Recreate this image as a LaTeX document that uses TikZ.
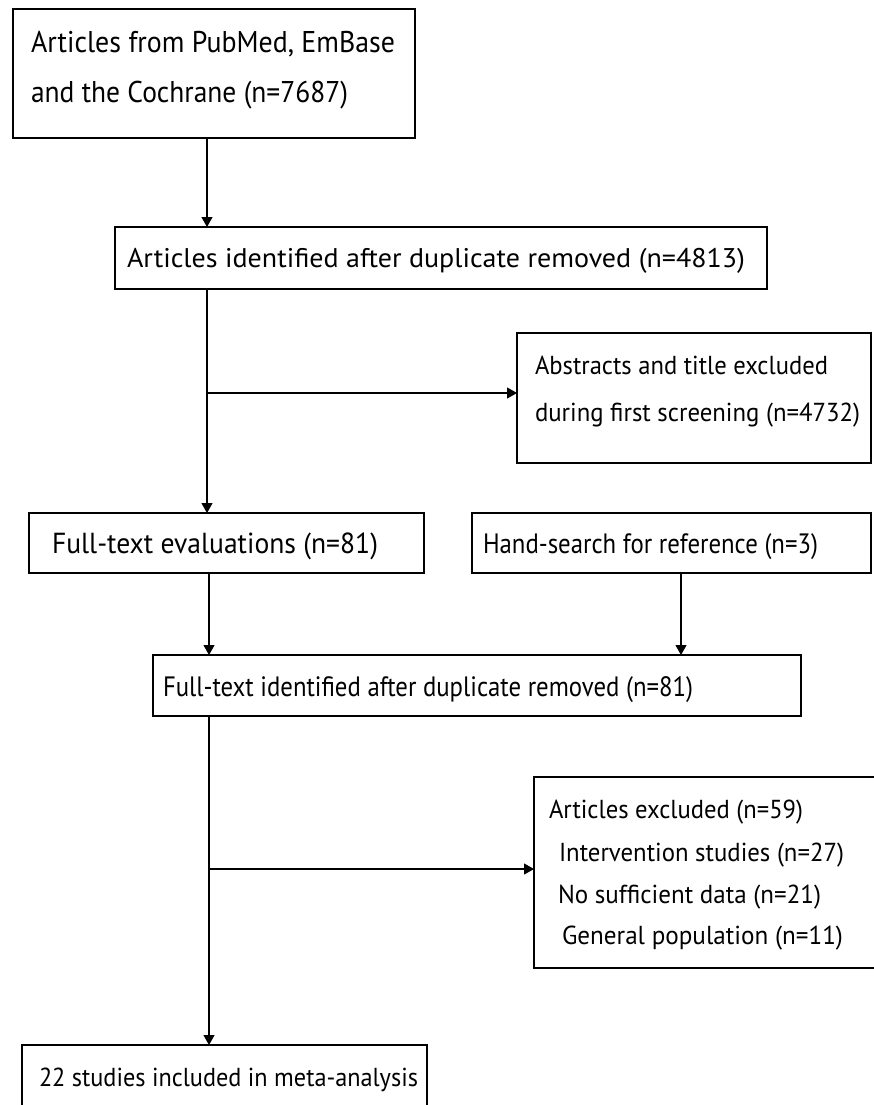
\documentclass[tikz,border=0pt]{standalone}
\usepackage{fontspec}
\setmainfont{PT Sans}
\usepackage{graphicx}
\usetikzlibrary{arrows.meta}
\newcommand{\stretchtext}[3]{\resizebox{#1pt}{\height}{\fontsize{#2pt}{#2pt}\selectfont #3}}
\begin{document}
\begin{tikzpicture}[x=1pt,y=-1pt,
  boxnode/.style={draw=black, line width=2.2pt, inner sep=0pt, outer sep=0pt, rectangle},
  txt/.style={inner sep=0pt, outer sep=0pt, anchor=base west, text=black},
  conn/.style={draw=black, line width=1.2pt},
  arr/.style={conn, -{Triangle[length=10pt,width=11pt]}}]
\useasboundingbox (0,0) rectangle (874,1105);
\fill[white] (0,0) rectangle (874,1105);
\clip (0,0) rectangle (874,1105);
% boxes
\node[boxnode, minimum width=402pt, minimum height=129pt] (b1) at (214,73.5) {};
\node[boxnode, minimum width=652pt, minimum height=62pt] (b2) at (441,258) {};
\node[boxnode, minimum width=354pt, minimum height=130pt] (b3) at (694,398) {};
\node[boxnode, minimum width=395pt, minimum height=60pt] (b4) at (226.5,543) {};
\node[boxnode, minimum width=399pt, minimum height=60pt] (b5) at (671.5,543) {};
\node[boxnode, minimum width=648pt, minimum height=61pt] (b6) at (477,685.5) {};
\node[boxnode, minimum width=346pt, minimum height=191pt] (b7) at (707,872.5) {};
\node[boxnode, minimum width=405pt, minimum height=70pt] (b8) at (224.5,1080) {};
% texts
\node[txt] (t1a) at (31,53) {\stretchtext{364}{30}{Articles from PubMed, EmBase}};
\node[txt] (t1b) at (31,103) {\stretchtext{317}{30}{and the Cochrane (n=7687)}};
\node[txt] (t2) at (127,267) {\stretchtext{618}{27}{Articles identified after duplicate removed (n=4813)}};
\node[txt] (t3a) at (535,374) {\stretchtext{293}{26}{Abstracts and title excluded}};
\node[txt] (t3b) at (535,421) {\stretchtext{325}{26}{during first screening (n=4732)}};
\node[txt] (t4) at (52,553) {\stretchtext{326}{29}{Full-text evaluations (n=81)}};
\node[txt] (t5) at (483,553) {\stretchtext{335}{28}{Hand-search for reference (n=3)}};
\node[txt] (t6) at (163,696) {\stretchtext{530}{28}{Full-text identified after duplicate removed (n=81)}};
\node[txt] (t7a) at (549,818) {\stretchtext{254}{26}{Articles excluded (n=59)}};
\node[txt] (t7b) at (559,861) {\stretchtext{285}{26}{Intervention studies (n=27)}};
\node[txt] (t7c) at (558,903) {\stretchtext{263}{26}{No sufficient data (n=21)}};
\node[txt] (t7d) at (562,944) {\stretchtext{281}{26}{General population (n=11)}};
\node[txt] (t8) at (39,1086) {\stretchtext{379}{26}{22 studies included in meta-analysis}};
% connector coordinates
\coordinate (ca) at (207,0);
\coordinate (cb) at (209,0);
\coordinate (cc) at (681,0);
\coordinate (j1) at (207,393);
\coordinate (j2) at (209,869);
% connectors
\draw[arr] (b1.south -| ca) -- (b2.north -| ca);
\draw[arr] (b2.south -| ca) -- (b4.north -| ca);
\draw[arr] (j1) -- (b3.west |- j1);
\draw[arr] (b4.south -| cb) -- (b6.north -| cb);
\draw[arr] (b5.south -| cc) -- (b6.north -| cc);
\draw[arr] (b6.south -| cb) -- (b8.north -| cb);
\draw[arr] (j2) -- (b7.west |- j2);
\end{tikzpicture}
\end{document}
